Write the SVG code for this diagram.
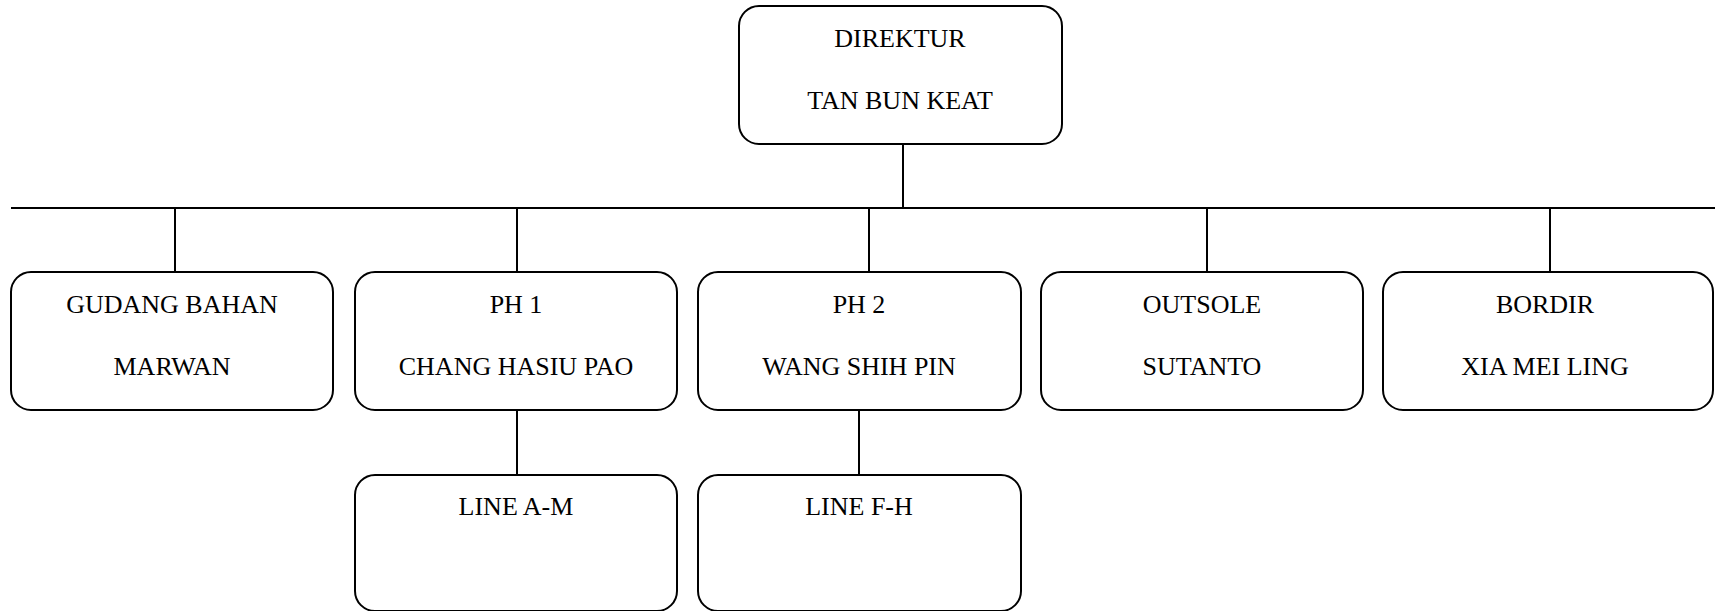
<svg xmlns="http://www.w3.org/2000/svg" width="1715" height="611" viewBox="0 0 1715 611">
<style>
.box{fill:#fff;stroke:#000;stroke-width:2}
.c{stroke:#000;stroke-width:2;fill:none}
</style>
<rect width="1715" height="611" fill="#fff"/>
<g id="connectors">
<line class="c" x1="903" y1="144" x2="903" y2="208"/>
<line class="c" x1="11" y1="208" x2="1715" y2="208"/>
<line class="c" x1="175" y1="208" x2="175" y2="272"/>
<line class="c" x1="517" y1="208" x2="517" y2="272"/>
<line class="c" x1="869" y1="208" x2="869" y2="272"/>
<line class="c" x1="1207" y1="208" x2="1207" y2="272"/>
<line class="c" x1="1550" y1="208" x2="1550" y2="272"/>
<line class="c" x1="517" y1="410" x2="517" y2="475"/>
<line class="c" x1="859" y1="410" x2="859" y2="475"/>
</g>
<g font-family="Liberation Serif, Times New Roman, serif" font-size="26" fill="#000" text-anchor="middle">
<g id="direktur">
<rect class="box" x="739" y="6" width="323" height="138" rx="20"/>
<text x="900" y="47">DIREKTUR</text>
<text x="900" y="109">TAN BUN KEAT</text>
</g>
<g id="gudang">
<rect class="box" x="11" y="272" width="322" height="138" rx="20"/>
<text x="172" y="313">GUDANG BAHAN</text>
<text x="172" y="375">MARWAN</text>
</g>
<g id="ph1">
<rect class="box" x="355" y="272" width="322" height="138" rx="20"/>
<text x="516" y="313">PH 1</text>
<text x="516" y="375">CHANG HASIU PAO</text>
</g>
<g id="ph2">
<rect class="box" x="698" y="272" width="323" height="138" rx="20"/>
<text x="859" y="313">PH 2</text>
<text x="859" y="375">WANG SHIH PIN</text>
</g>
<g id="outsole">
<rect class="box" x="1041" y="272" width="322" height="138" rx="20"/>
<text x="1202" y="313">OUTSOLE</text>
<text x="1202" y="375">SUTANTO</text>
</g>
<g id="bordir">
<rect class="box" x="1383" y="272" width="330" height="138" rx="20"/>
<text x="1545" y="313">BORDIR</text>
<text x="1545" y="375">XIA MEI LING</text>
</g>
<g id="line-am">
<rect class="box" x="355" y="475" width="322" height="136" rx="20"/>
<text x="516" y="515">LINE A-M</text>
</g>
<g id="line-fh">
<rect class="box" x="698" y="475" width="323" height="136" rx="20"/>
<text x="859" y="515">LINE F-H</text>
</g>
</g>
</svg>
